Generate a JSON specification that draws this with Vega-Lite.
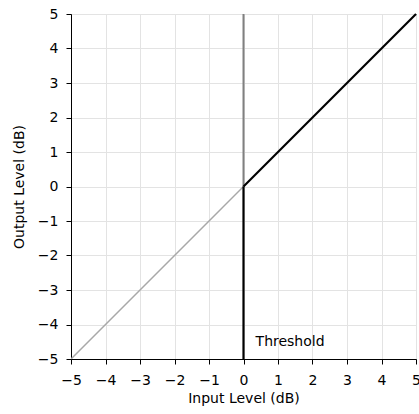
{
  "$schema": "https://vega.github.io/schema/vega-lite/v6.json",
  "width": 345,
  "height": 345,
  "autosize": "none",
  "padding": {"left": 71, "top": 14, "right": 3, "bottom": 55},
  "background": "white",
  "config": {
    "font": "DejaVu Sans",
    "view": {"stroke": "#000000", "strokeWidth": 1},
    "axis": {
      "labelFont": "DejaVu Sans",
      "titleFont": "DejaVu Sans",
      "labelFontSize": 14,
      "titleFontSize": 14,
      "titleFontWeight": "normal",
      "labelColor": "#000000",
      "titleColor": "#000000",
      "domainColor": "#000000",
      "tickColor": "#000000",
      "tickSize": 5,
      "gridColor": "#e3e3e3",
      "gridWidth": 1,
      "values": [-5, -4, -3, -2, -1, 0, 1, 2, 3, 4, 5]
    }
  },
  "datasets": {
    "below": [{"x": -5, "y": -5}, {"x": 0, "y": 0}],
    "above": [{"x": 0, "y": 0}, {"x": 5, "y": 5}],
    "thrUp": [{"x": 0, "y": 0}, {"x": 0, "y": 5}],
    "thrDown": [{"x": 0, "y": -5}, {"x": 0, "y": 0}],
    "label": [{"x": 0.35, "y": -4.5, "text": "Threshold"}]
  },
  "layer": [
    {
      "data": {"name": "below"},
      "mark": {"type": "line", "color": "#a8a8a8", "strokeWidth": 1.5, "clip": true},
      "encoding": {
        "x": {"field": "x", "type": "quantitative", "scale": {"domain": [-5, 5], "nice": false, "zero": false}, "axis": {"title": "Input Level (dB)", "labelPadding": 9, "titlePadding": 4, "labelFlush": false}},
        "y": {"field": "y", "type": "quantitative", "scale": {"domain": [-5, 5], "nice": false, "zero": false}, "axis": {"title": "Output Level (dB)", "labelPadding": 8, "titlePadding": 11, "labelFlush": false}}
      }
    },
    {
      "data": {"name": "thrUp"},
      "mark": {"type": "line", "color": "#808080", "strokeWidth": 2},
      "encoding": {
        "x": {"field": "x", "type": "quantitative"},
        "y": {"field": "y", "type": "quantitative"}
      }
    },
    {
      "data": {"name": "thrDown"},
      "mark": {"type": "line", "color": "#000000", "strokeWidth": 2.2},
      "encoding": {
        "x": {"field": "x", "type": "quantitative"},
        "y": {"field": "y", "type": "quantitative"}
      }
    },
    {
      "data": {"name": "above"},
      "mark": {"type": "line", "color": "#000000", "strokeWidth": 2.2},
      "encoding": {
        "x": {"field": "x", "type": "quantitative"},
        "y": {"field": "y", "type": "quantitative"}
      }
    },
    {
      "data": {"name": "label"},
      "mark": {"type": "text", "align": "left", "baseline": "middle", "font": "DejaVu Sans", "fontSize": 14, "color": "#000000"},
      "encoding": {
        "x": {"field": "x", "type": "quantitative"},
        "y": {"field": "y", "type": "quantitative"},
        "text": {"field": "text"}
      }
    }
  ]
}
